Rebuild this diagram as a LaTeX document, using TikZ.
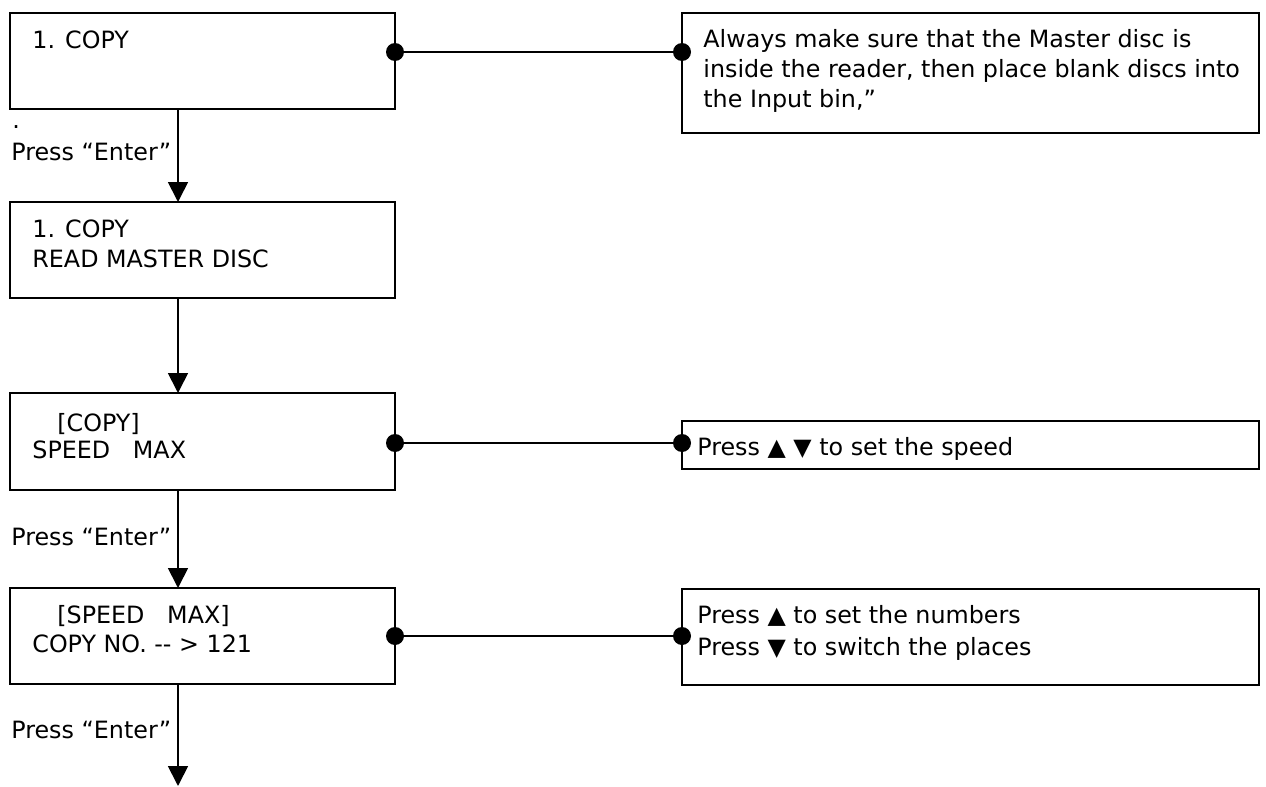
\documentclass[tikz,border=0pt]{standalone}
\usepackage{fontspec}
\setmainfont{DejaVu Sans}
\usetikzlibrary{arrows.meta}
\begin{document}
\begin{tikzpicture}[x=0.5pt,y=-0.5pt,
  box/.style={draw=black,line width=1pt,fill=white,rectangle,anchor=north west,inner sep=0pt,outer sep=0pt},
  lbox/.style={box,minimum width=192.5pt,minimum height=48pt},
  rbox/.style={box,minimum width=288.5pt},
  txt/.style={anchor=base west,inner sep=0pt,font=\fontsize{11.9}{14}\selectfont},
  link/.style={draw=black,line width=0.9pt},
  flow/.style={draw=black,line width=0.9pt,-{Triangle[length=10pt,width=10pt]}},
  dot/.style={circle,fill=black,inner sep=0pt,minimum size=9pt}]
\useasboundingbox (0,0) rectangle (1266,787);
% boxes
\node[lbox] (b1) at (10,13) {};
\node[rbox,minimum height=60pt] (bA) at (682,13) {};
\node[lbox] (b2) at (10,202) {};
\node[lbox,minimum height=48.5pt] (b3) at (10,393) {};
\node[rbox,minimum height=24pt] (bB) at (682,421) {};
\node[lbox] (b4) at (10,588) {};
\node[rbox,minimum height=48pt] (bC) at (682,589) {};
% texts
\node[txt] (t1) at (32,48) {1. COPY};
\node[txt] (tA1) at (703,47) {Always make sure that the Master disc is};
\node[txt] (tA2) at (703,77) {inside the reader, then place blank discs into};
\node[txt] (tA3) at (703,107) {the Input bin,”};
\node[txt] (t2a) at (32,237) {1. COPY};
\node[txt] (t2b) at (32,267) {READ MASTER DISC};
\node[txt] (t3a) at (57,431) {[COPY]};
\node[txt] (t3b) at (32,458) {SPEED\ \ \ MAX};
\node[txt] (tB) at (697,455) {Press ▲ ▼ to set the speed};
\node[txt] (t4a) at (57,623) {[SPEED\ \ \ MAX]};
\node[txt] (t4b) at (32,652) {COPY NO. -{}- > 121};
\node[txt] (tC1) at (697,623) {Press ▲ to set the numbers};
\node[txt] (tC2) at (697,655) {Press ▼ to switch the places};
\node[txt] (dotlbl) at (12,128) {.};
\node[txt] (p1) at (11,160) {Press “Enter”};
\node[txt] (p2) at (11,545) {Press “Enter”};
\node[txt] (p3) at (11,738) {Press “Enter”};
% flow arrows
\coordinate (ax) at (178,0);
\coordinate (fin) at (178,786);
\draw[flow] (b1.south -| ax) -- (b2.north -| ax);
\draw[flow] (b2.south -| ax) -- (b3.north -| ax);
\draw[flow] (b3.south -| ax) -- (b4.north -| ax);
\draw[flow] (b4.south -| ax) -- (fin);
% side connectors
\coordinate (y1) at (0,52);
\coordinate (y2) at (0,443);
\coordinate (y3) at (0,636);
\draw[link] (b1.east |- y1) -- (bA.west |- y1);
\draw[link] (b3.east |- y2) -- (bB.west |- y2);
\draw[link] (b4.east |- y3) -- (bC.west |- y3);
\node[dot] (d1) at (b1.east |- y1) {};
\node[dot] (e1) at (bA.west |- y1) {};
\node[dot] (d2) at (b3.east |- y2) {};
\node[dot] (e2) at (bB.west |- y2) {};
\node[dot] (d3) at (b4.east |- y3) {};
\node[dot] (e3) at (bC.west |- y3) {};
\end{tikzpicture}
\end{document}
